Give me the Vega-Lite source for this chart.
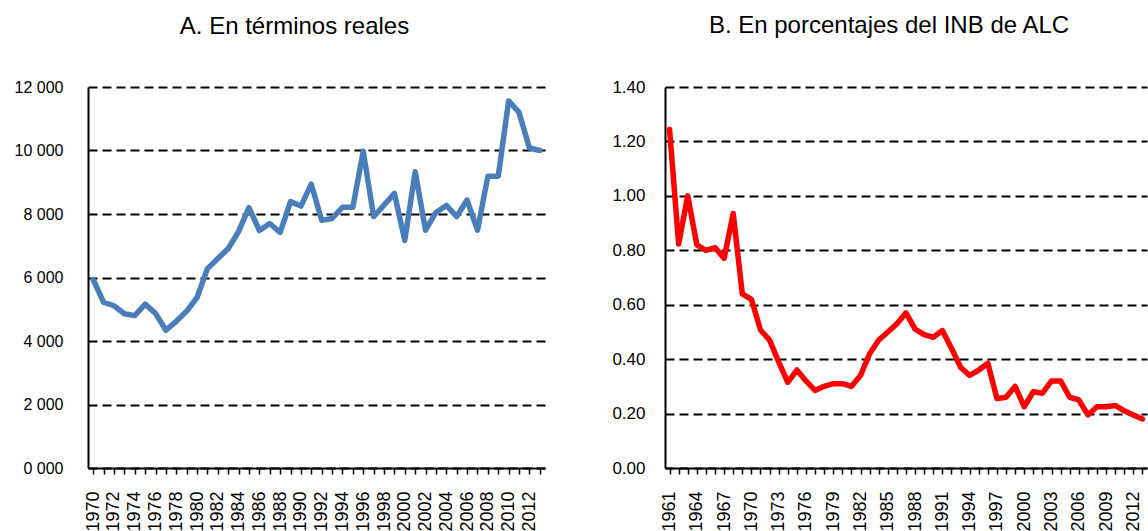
{
  "$schema": "https://vega.github.io/schema/vega-lite/v6.json",
  "padding": {"left": 14, "top": 14, "right": 0, "bottom": 0},
  "datasets": {
    "real": [
      {"year": 1970, "value": 5930}, {"year": 1971, "value": 5220}, {"year": 1972, "value": 5110},
      {"year": 1973, "value": 4860}, {"year": 1974, "value": 4800}, {"year": 1975, "value": 5160},
      {"year": 1976, "value": 4870}, {"year": 1977, "value": 4340}, {"year": 1978, "value": 4620},
      {"year": 1979, "value": 4940}, {"year": 1980, "value": 5370}, {"year": 1981, "value": 6280},
      {"year": 1982, "value": 6600}, {"year": 1983, "value": 6910}, {"year": 1984, "value": 7450},
      {"year": 1985, "value": 8200}, {"year": 1986, "value": 7480}, {"year": 1987, "value": 7700},
      {"year": 1988, "value": 7420}, {"year": 1989, "value": 8390}, {"year": 1990, "value": 8250},
      {"year": 1991, "value": 8940}, {"year": 1992, "value": 7800}, {"year": 1993, "value": 7860},
      {"year": 1994, "value": 8210}, {"year": 1995, "value": 8210}, {"year": 1996, "value": 9980},
      {"year": 1997, "value": 7920}, {"year": 1998, "value": 8280}, {"year": 1999, "value": 8650},
      {"year": 2000, "value": 7170}, {"year": 2001, "value": 9330}, {"year": 2002, "value": 7490},
      {"year": 2003, "value": 8050}, {"year": 2004, "value": 8270}, {"year": 2005, "value": 7920},
      {"year": 2006, "value": 8440}, {"year": 2007, "value": 7490}, {"year": 2008, "value": 9190},
      {"year": 2009, "value": 9190}, {"year": 2010, "value": 11560}, {"year": 2011, "value": 11200},
      {"year": 2012, "value": 10080}, {"year": 2013, "value": 10000}
    ],
    "pct": [
      {"year": 1961, "value": 1.245}, {"year": 1962, "value": 0.823}, {"year": 1963, "value": 1.0},
      {"year": 1964, "value": 0.82}, {"year": 1965, "value": 0.80}, {"year": 1966, "value": 0.81},
      {"year": 1967, "value": 0.77}, {"year": 1968, "value": 0.935}, {"year": 1969, "value": 0.64},
      {"year": 1970, "value": 0.62}, {"year": 1971, "value": 0.507}, {"year": 1972, "value": 0.47},
      {"year": 1973, "value": 0.39}, {"year": 1974, "value": 0.315}, {"year": 1975, "value": 0.36},
      {"year": 1976, "value": 0.32}, {"year": 1977, "value": 0.285}, {"year": 1978, "value": 0.30},
      {"year": 1979, "value": 0.31}, {"year": 1980, "value": 0.31}, {"year": 1981, "value": 0.30},
      {"year": 1982, "value": 0.34}, {"year": 1983, "value": 0.42}, {"year": 1984, "value": 0.47},
      {"year": 1985, "value": 0.50}, {"year": 1986, "value": 0.53}, {"year": 1987, "value": 0.57},
      {"year": 1988, "value": 0.51}, {"year": 1989, "value": 0.49}, {"year": 1990, "value": 0.48},
      {"year": 1991, "value": 0.505}, {"year": 1992, "value": 0.44}, {"year": 1993, "value": 0.37},
      {"year": 1994, "value": 0.34}, {"year": 1995, "value": 0.36}, {"year": 1996, "value": 0.385},
      {"year": 1997, "value": 0.255}, {"year": 1998, "value": 0.26}, {"year": 1999, "value": 0.30},
      {"year": 2000, "value": 0.225}, {"year": 2001, "value": 0.28}, {"year": 2002, "value": 0.275},
      {"year": 2003, "value": 0.32}, {"year": 2004, "value": 0.32}, {"year": 2005, "value": 0.26},
      {"year": 2006, "value": 0.25}, {"year": 2007, "value": 0.195}, {"year": 2008, "value": 0.225},
      {"year": 2009, "value": 0.225}, {"year": 2010, "value": 0.23}, {"year": 2011, "value": 0.21},
      {"year": 2012, "value": 0.195}, {"year": 2013, "value": 0.18}
    ]
  },
  "config": {
    "font": "Liberation Sans",
    "view": {"stroke": null},
    "concat": {"spacing": 62},
    "axis": {
      "labelFont": "Liberation Sans",
      "labelColor": "#000000",
      "domainColor": "#000000",
      "domainWidth": 2,
      "tickColor": "#000000",
      "tickWidth": 1.5,
      "title": null
    },
    "title": {
      "font": "Liberation Sans",
      "fontSize": 24,
      "fontWeight": "normal",
      "color": "#000000",
      "anchor": "middle",
      "frame": "group"
    }
  },
  "hconcat": [
    {
      "width": 457,
      "height": 381,
      "title": {"text": "A. En términos reales", "dx": -22, "offset": 40},
      "data": {"name": "real"},
      "mark": {"type": "line", "color": "#4a7ebb", "strokeWidth": 5.5, "strokeJoin": "round", "strokeCap": "round"},
      "encoding": {
        "x": {
          "field": "year", "type": "ordinal",
          "scale": {"type": "point", "padding": 0.5},
          "axis": {
            "labelAngle": -90, "labelAlign": "right", "labelBaseline": "middle", "labelFontSize": 18,
            "labelPadding": 17, "tickSize": 6, "labelOverlap": false, "grid": false, "zindex": 2,
            "labelExpr": "datum.value % 2 == 0 ? datum.label : ''"
          }
        },
        "y": {
          "field": "value", "type": "quantitative",
          "scale": {"domain": [0, 12000], "nice": false},
          "axis": {
            "values": [0, 2000, 4000, 6000, 8000, 10000, 12000],
            "ticks": false, "labelPadding": 25, "labelFontSize": 16,
            "grid": true, "gridColor": "#000000", "gridDash": [9, 5], "gridWidth": 1.8,
            "labelExpr": "datum.value == 0 ? '0 000' : replace(format(datum.value, ','), ',', ' ')"
          }
        }
      }
    },
    {
      "width": 482,
      "height": 381,
      "title": {"text": "B. En porcentajes del INB de ALC", "dx": -17, "offset": 40},
      "data": {"name": "pct"},
      "mark": {"type": "line", "color": "#ff0000", "strokeWidth": 5.5, "strokeJoin": "round", "strokeCap": "round"},
      "encoding": {
        "x": {
          "field": "year", "type": "ordinal",
          "scale": {"type": "point", "padding": 0.5},
          "axis": {
            "labelAngle": -90, "labelAlign": "right", "labelBaseline": "middle", "labelFontSize": 18,
            "labelPadding": 17, "tickSize": 6, "labelOverlap": false, "grid": false, "zindex": 2,
            "labelExpr": "(datum.value - 1961) % 3 == 0 ? datum.label : ''"
          }
        },
        "y": {
          "field": "value", "type": "quantitative",
          "scale": {"domain": [0, 1.4], "nice": false},
          "axis": {
            "values": [0, 0.2, 0.4, 0.6, 0.8, 1.0, 1.2, 1.4],
            "ticks": false, "labelPadding": 20, "labelFontSize": 17, "format": ".2f",
            "grid": true, "gridColor": "#000000", "gridDash": [9, 5], "gridWidth": 1.8
          }
        }
      }
    }
  ]
}
